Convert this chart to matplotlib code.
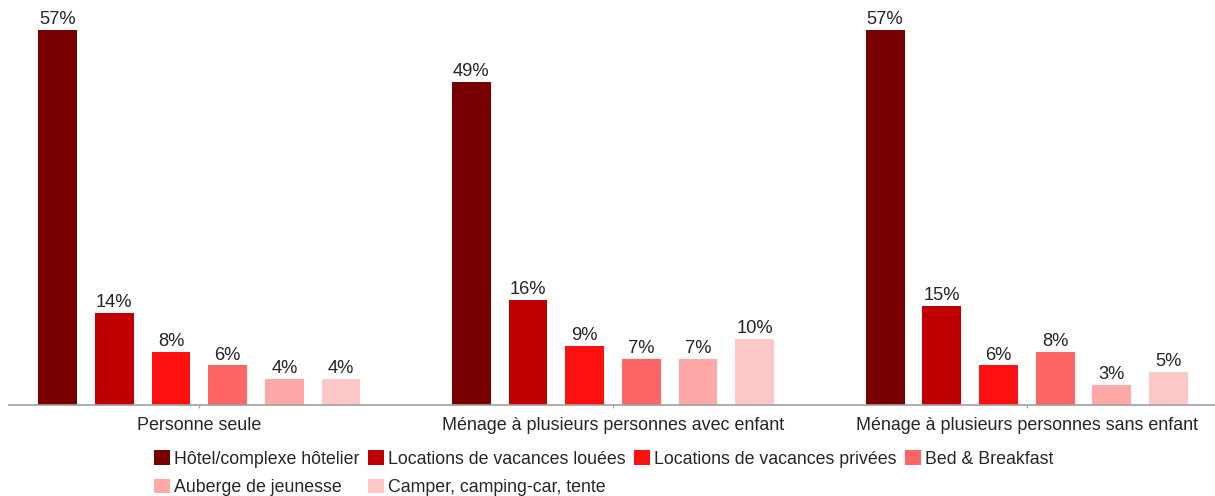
import matplotlib
matplotlib.use("Agg")
import matplotlib.pyplot as plt
import numpy as np

categories = ["Personne seule",
              "Ménage à plusieurs personnes avec enfant",
              "Ménage à plusieurs personnes sans enfant"]
series_names = ["Hôtel/complexe hôtelier",
                "Locations de vacances louées",
                "Locations de vacances privées",
                "Bed & Breakfast",
                "Auberge de jeunesse",
                "Camper, camping-car, tente"]
hotel = [57, 49, 57]
loc_louees = [14, 16, 15]
loc_privees = [8, 9, 6]
bnb = [6, 7, 8]
auberge = [4, 7, 3]
camper = [4, 10, 5]
values = [hotel, loc_louees, loc_privees, bnb, auberge, camper]
colors = ["#780000", "#C00000", "#FF1010", "#FF6565", "#FFA8A8", "#FFC8C8"]

plt.rcParams['font.family'] = ['Liberation Sans', 'DejaVu Sans']
W, H = 1215, 496
fig = plt.figure(figsize=(W / 100, H / 100), dpi=100)
ax = fig.add_axes([9 / W, 91 / H, (W - 9) / W, (H - 91) / H])

x = np.arange(len(categories))
step = 0.137
width = 0.094
handles = []
for i, (name, vals, c) in enumerate(zip(series_names, values, colors)):
    pos = x + (i - 2.5) * step
    b = ax.bar(pos, vals, width, color=c, label=name)
    handles.append(b)
    for p, v in zip(pos, vals):
        ax.text(p, v + 0.3, f"{v}%", ha="center", va="bottom",
                fontsize=13.2, color="#262626")

ax.set_xlim(-0.46, 2.455)
ax.set_ylim(0, 61.5)
for s in ["top", "right", "left"]:
    ax.spines[s].set_visible(False)
ax.spines["bottom"].set_color("#A0A0A0")
ax.spines["bottom"].set_linewidth(1.2)
ax.set_yticks([])
ax.set_xticks(x)
ax.set_xticklabels(categories, fontsize=12.9, color="#262626")
ax.tick_params(axis="x", length=2, color="#A0A0A0", pad=7)

order = [0, 4, 1, 5, 2, 3]
leg = fig.legend([handles[k] for k in order], [series_names[k] for k in order],
                 ncol=4, loc="upper center", bbox_to_anchor=(0.497, 1 - 438 / H),
                 frameon=False, fontsize=12.8, handlelength=0.9, handleheight=0.9,
                 handletextpad=0.25, columnspacing=0.45, labelspacing=0.6,
                 borderpad=0.2)
for t in leg.get_texts():
    t.set_color("#262626")

fig.savefig("out.png", dpi=100)
